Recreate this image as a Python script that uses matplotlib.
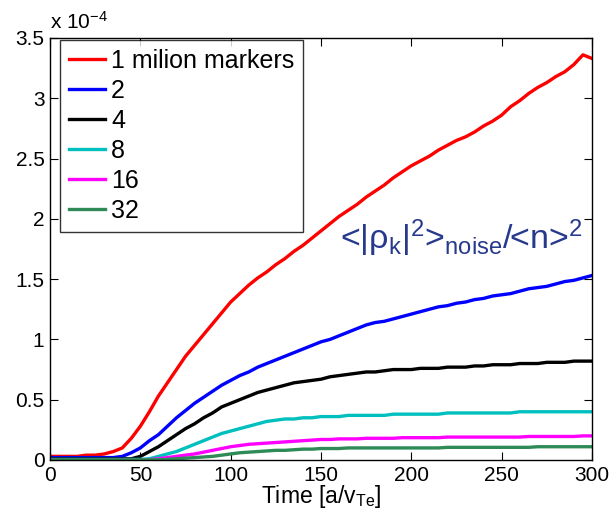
import numpy as np
import matplotlib
matplotlib.use("Agg")
import matplotlib.pyplot as plt

plt.rcParams.update({
    "font.family":      "Liberation Sans",
    "mathtext.fontset": "custom",
    "mathtext.rm":      "Liberation Sans",
    "mathtext.it":      "Liberation Sans",
    "mathtext.sf":      "Liberation Sans",
    "xtick.direction":  "in",
    "ytick.direction":  "in",
    "xtick.top":        True,
    "ytick.right":      True,
})

# time axis [a/v_Te], sampled every 5
time = list(range(0, 301, 5))

# <|rho_k|^2>_noise / <n>^2, in units of 1e-4
m1 = [0.03, 0.03, 0.03, 0.03, 0.04, 0.04, 0.05, 0.07, 0.10, 0.18,
      0.28, 0.40, 0.53, 0.64, 0.75, 0.86, 0.95, 1.04, 1.13, 1.22,
      1.31, 1.38, 1.45, 1.51, 1.56, 1.62, 1.67, 1.73, 1.78, 1.84,
      1.90, 1.96, 2.02, 2.07, 2.12, 2.18, 2.23, 2.28, 2.34, 2.39,
      2.44, 2.48, 2.52, 2.57, 2.61, 2.65, 2.68, 2.72, 2.77, 2.81,
      2.86, 2.93, 2.98, 3.04, 3.09, 3.13, 3.18, 3.22, 3.28, 3.36, 3.33]
m2 = [0.02, 0.02, 0.02, 0.02, 0.02, 0.02, 0.02, 0.02, 0.03, 0.06,
      0.10, 0.16, 0.21, 0.28, 0.35, 0.41, 0.47, 0.52, 0.57, 0.62,
      0.66, 0.70, 0.73, 0.77, 0.80, 0.83, 0.86, 0.89, 0.92, 0.95,
      0.98, 1.00, 1.03, 1.06, 1.09, 1.12, 1.14, 1.15, 1.17, 1.19,
      1.21, 1.23, 1.25, 1.27, 1.28, 1.30, 1.31, 1.33, 1.34, 1.36,
      1.37, 1.38, 1.40, 1.42, 1.43, 1.44, 1.46, 1.48, 1.49, 1.51, 1.53]
m4 = [0.01, 0.01, 0.01, 0.01, 0.01, 0.01, 0.01, 0.01, 0.01, 0.01,
      0.03, 0.07, 0.11, 0.16, 0.21, 0.26, 0.30, 0.35, 0.39, 0.44,
      0.47, 0.50, 0.53, 0.56, 0.58, 0.60, 0.62, 0.64, 0.65, 0.66,
      0.67, 0.69, 0.70, 0.71, 0.72, 0.73, 0.73, 0.74, 0.75, 0.75,
      0.75, 0.76, 0.76, 0.76, 0.77, 0.77, 0.77, 0.78, 0.78, 0.79,
      0.79, 0.79, 0.80, 0.80, 0.80, 0.81, 0.81, 0.81, 0.82, 0.82, 0.82]
m8 = [0.005, 0.005, 0.005, 0.005, 0.005, 0.005, 0.005, 0.005, 0.005, 0.005,
      0.005, 0.01, 0.03, 0.05, 0.07, 0.10, 0.13, 0.16, 0.19, 0.22,
      0.24, 0.26, 0.28, 0.30, 0.32, 0.33, 0.34, 0.34, 0.35, 0.35,
      0.36, 0.36, 0.36, 0.37, 0.37, 0.37, 0.37, 0.37, 0.38, 0.38,
      0.38, 0.38, 0.38, 0.38, 0.39, 0.39, 0.39, 0.39, 0.39, 0.39,
      0.39, 0.39, 0.40, 0.40, 0.40, 0.40, 0.40, 0.40, 0.40, 0.40, 0.40]
m16 = [0.003, 0.003, 0.003, 0.003, 0.003, 0.003, 0.003, 0.003, 0.003, 0.003,
       0.003, 0.003, 0.01, 0.02, 0.03, 0.04, 0.05, 0.065, 0.08, 0.095,
       0.11, 0.12, 0.13, 0.135, 0.14, 0.145, 0.15, 0.155, 0.16, 0.165,
       0.17, 0.17, 0.175, 0.175, 0.175, 0.18, 0.18, 0.18, 0.18, 0.185,
       0.185, 0.185, 0.185, 0.185, 0.19, 0.19, 0.19, 0.19, 0.19, 0.19,
       0.19, 0.19, 0.19, 0.195, 0.195, 0.195, 0.195, 0.195, 0.195, 0.20, 0.20]
m32 = [0.002, 0.002, 0.002, 0.002, 0.002, 0.002, 0.002, 0.002, 0.002, 0.002,
       0.002, 0.002, 0.002, 0.005, 0.01, 0.015, 0.02, 0.025, 0.03, 0.04,
       0.05, 0.06, 0.065, 0.07, 0.075, 0.08, 0.08, 0.085, 0.09, 0.09,
       0.095, 0.095, 0.095, 0.10, 0.10, 0.10, 0.10, 0.10, 0.10, 0.10,
       0.10, 0.10, 0.10, 0.10, 0.105, 0.105, 0.105, 0.105, 0.105, 0.105,
       0.105, 0.105, 0.105, 0.105, 0.11, 0.11, 0.11, 0.11, 0.11, 0.11, 0.11]

labels = ["1 milion markers", "2", "4", "8", "16", "32"]
colors = ["#ff0000", "#0000ff", "#000000", "#00bfbf", "#ff00ff", "#2e8b57"]
series = [m1, m2, m4, m8, m16, m32]

fig = plt.figure(figsize=(6.13, 5.2), dpi=100)
ax = fig.add_axes([0.0816, 0.1154, 0.8841, 0.8116])

for y, c, lab in zip(series, colors, labels):
    ax.plot(time, y, color=c, lw=2.4, label=lab)

ax.set_xlim(0, 300)
ax.set_ylim(0, 3.5)
ax.set_xticks(range(0, 301, 50))
ax.set_yticks(np.arange(0, 3.51, 0.5))
ax.set_yticklabels(["0", "0.5", "1", "1.5", "2", "2.5", "3", "3.5"])
ax.tick_params(labelsize=15, length=6, width=0.8, pad=4)
for s in ax.spines.values():
    s.set_linewidth(1.0)

ax.set_xlabel("Time [a/v$_{Te}$]", fontsize=16.5, labelpad=-1)
ax.text(0.0, 1.012, "x 10$^{-4}$", transform=ax.transAxes,
        ha="left", va="bottom", fontsize=15)

ax.text(0.535, 0.50, "<|ρ$_k$|$^2$>$_{noise}$/<n>$^2$", transform=ax.transAxes,
        ha="left", va="baseline", fontsize=24.5, color="#26398c")

leg = ax.legend(loc="upper left", bbox_to_anchor=(0.018, 0.995), fontsize=18,
                frameon=True, fancybox=False, edgecolor="black",
                handlelength=1.45, handletextpad=0.25, labelspacing=0.24,
                borderpad=0.35, borderaxespad=0.0)
leg.get_frame().set_linewidth(1.0)

fig.savefig("out.png", dpi=100)
